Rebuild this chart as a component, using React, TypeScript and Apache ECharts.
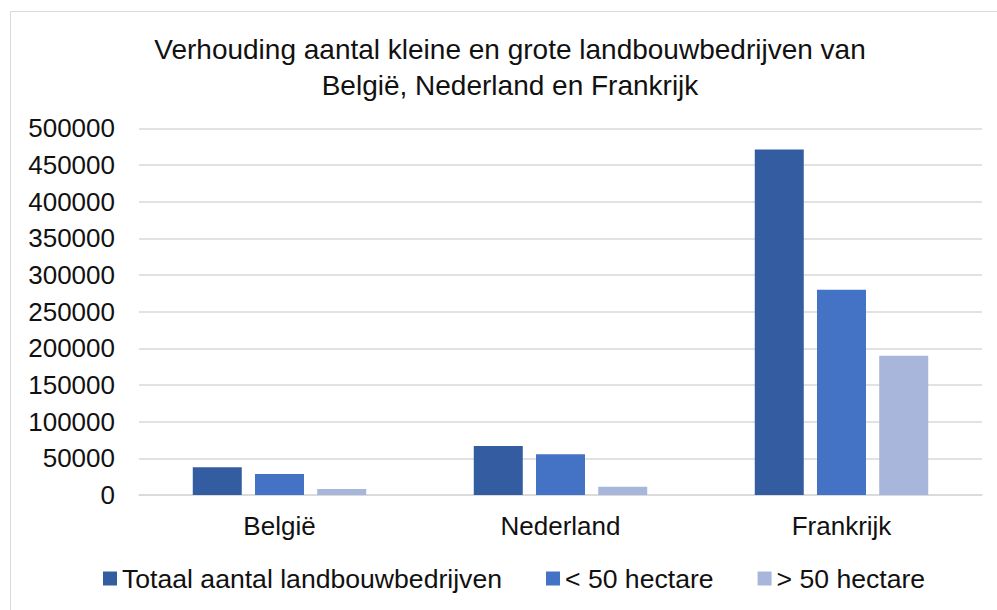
import React, { useEffect, useRef } from "react";
import * as echarts from "echarts";

const titleText = "Verhouding aantal kleine en grote landbouwbedrijven van\nBelgië, Nederland en Frankrijk";
const categories = ["België", "Nederland", "Frankrijk"];
const seriesNames = ["Totaal aantal landbouwbedrijven", "< 50 hectare", "> 50 hectare"];
const totaal = [37700, 66800, 471000];
const klein = [28600, 55500, 280000];
const groot = [8200, 11400, 190000];
const colors = ["#345DA1", "#4472C4", "#A8B6DB"];

export default function App() {
  const ref = useRef<HTMLDivElement>(null);
  useEffect(() => {
    document.body.style.margin = "0";
    if (!ref.current) return;
    const chart = echarts.init(ref.current, undefined, { renderer: "svg" });
    const font = "'Liberation Sans', Arial, sans-serif";
    const values = [totaal, klein, groot];
    chart.setOption({
      animation: false,
      backgroundColor: "#ffffff",
      graphic: [
        {
          type: "rect",
          silent: true,
          shape: { x: 10.5, y: 11.5, width: 1200, height: 800 },
          style: { fill: "none", stroke: "#d9d9d9", lineWidth: 1 },
          z: -1,
        },
        {
          type: "text",
          silent: true,
          x: 510,
          y: 31,
          style: {
            text: titleText,
            fontFamily: font,
            fontSize: 28,
            fill: "#111",
            align: "center",
            verticalAlign: "top",
            lineHeight: 36,
          },
        },
      ],
      legend: {
        left: 103,
        top: 565,
        padding: 0,
        itemWidth: 14,
        itemHeight: 14,
        itemGap: 44,
        icon: "rect",
        textStyle: { fontFamily: font, fontSize: 26.6, color: "#111" },
        data: seriesNames,
      },
      grid: { left: 139, right: 15, top: 128.3, bottom: 115, containLabel: false },
      xAxis: {
        type: "category",
        data: categories,
        axisLine: { show: true, lineStyle: { color: "#d9d9d9", width: 1.5 } },
        axisTick: { show: false },
        axisLabel: { fontFamily: font, fontSize: 26, color: "#111", margin: 18 },
      },
      yAxis: {
        type: "value",
        min: 0,
        max: 500000,
        interval: 50000,
        axisLine: { show: false },
        axisTick: { show: false },
        splitLine: { lineStyle: { color: "#d9d9d9", width: 1.5 } },
        axisLabel: {
          fontFamily: font,
          fontSize: 26,
          color: "#111",
          margin: 24,
          formatter: (v: number) => String(v),
        },
      },
      series: seriesNames.map((name, i) => ({
        name,
        type: "bar",
        data: values[i],
        barWidth: 49,
        barGap: "27%",
        itemStyle: { color: colors[i] },
      })),
    });
    return () => chart.dispose();
  }, []);
  return <div ref={ref} style={{ width: 997, height: 610 }} />;
}
